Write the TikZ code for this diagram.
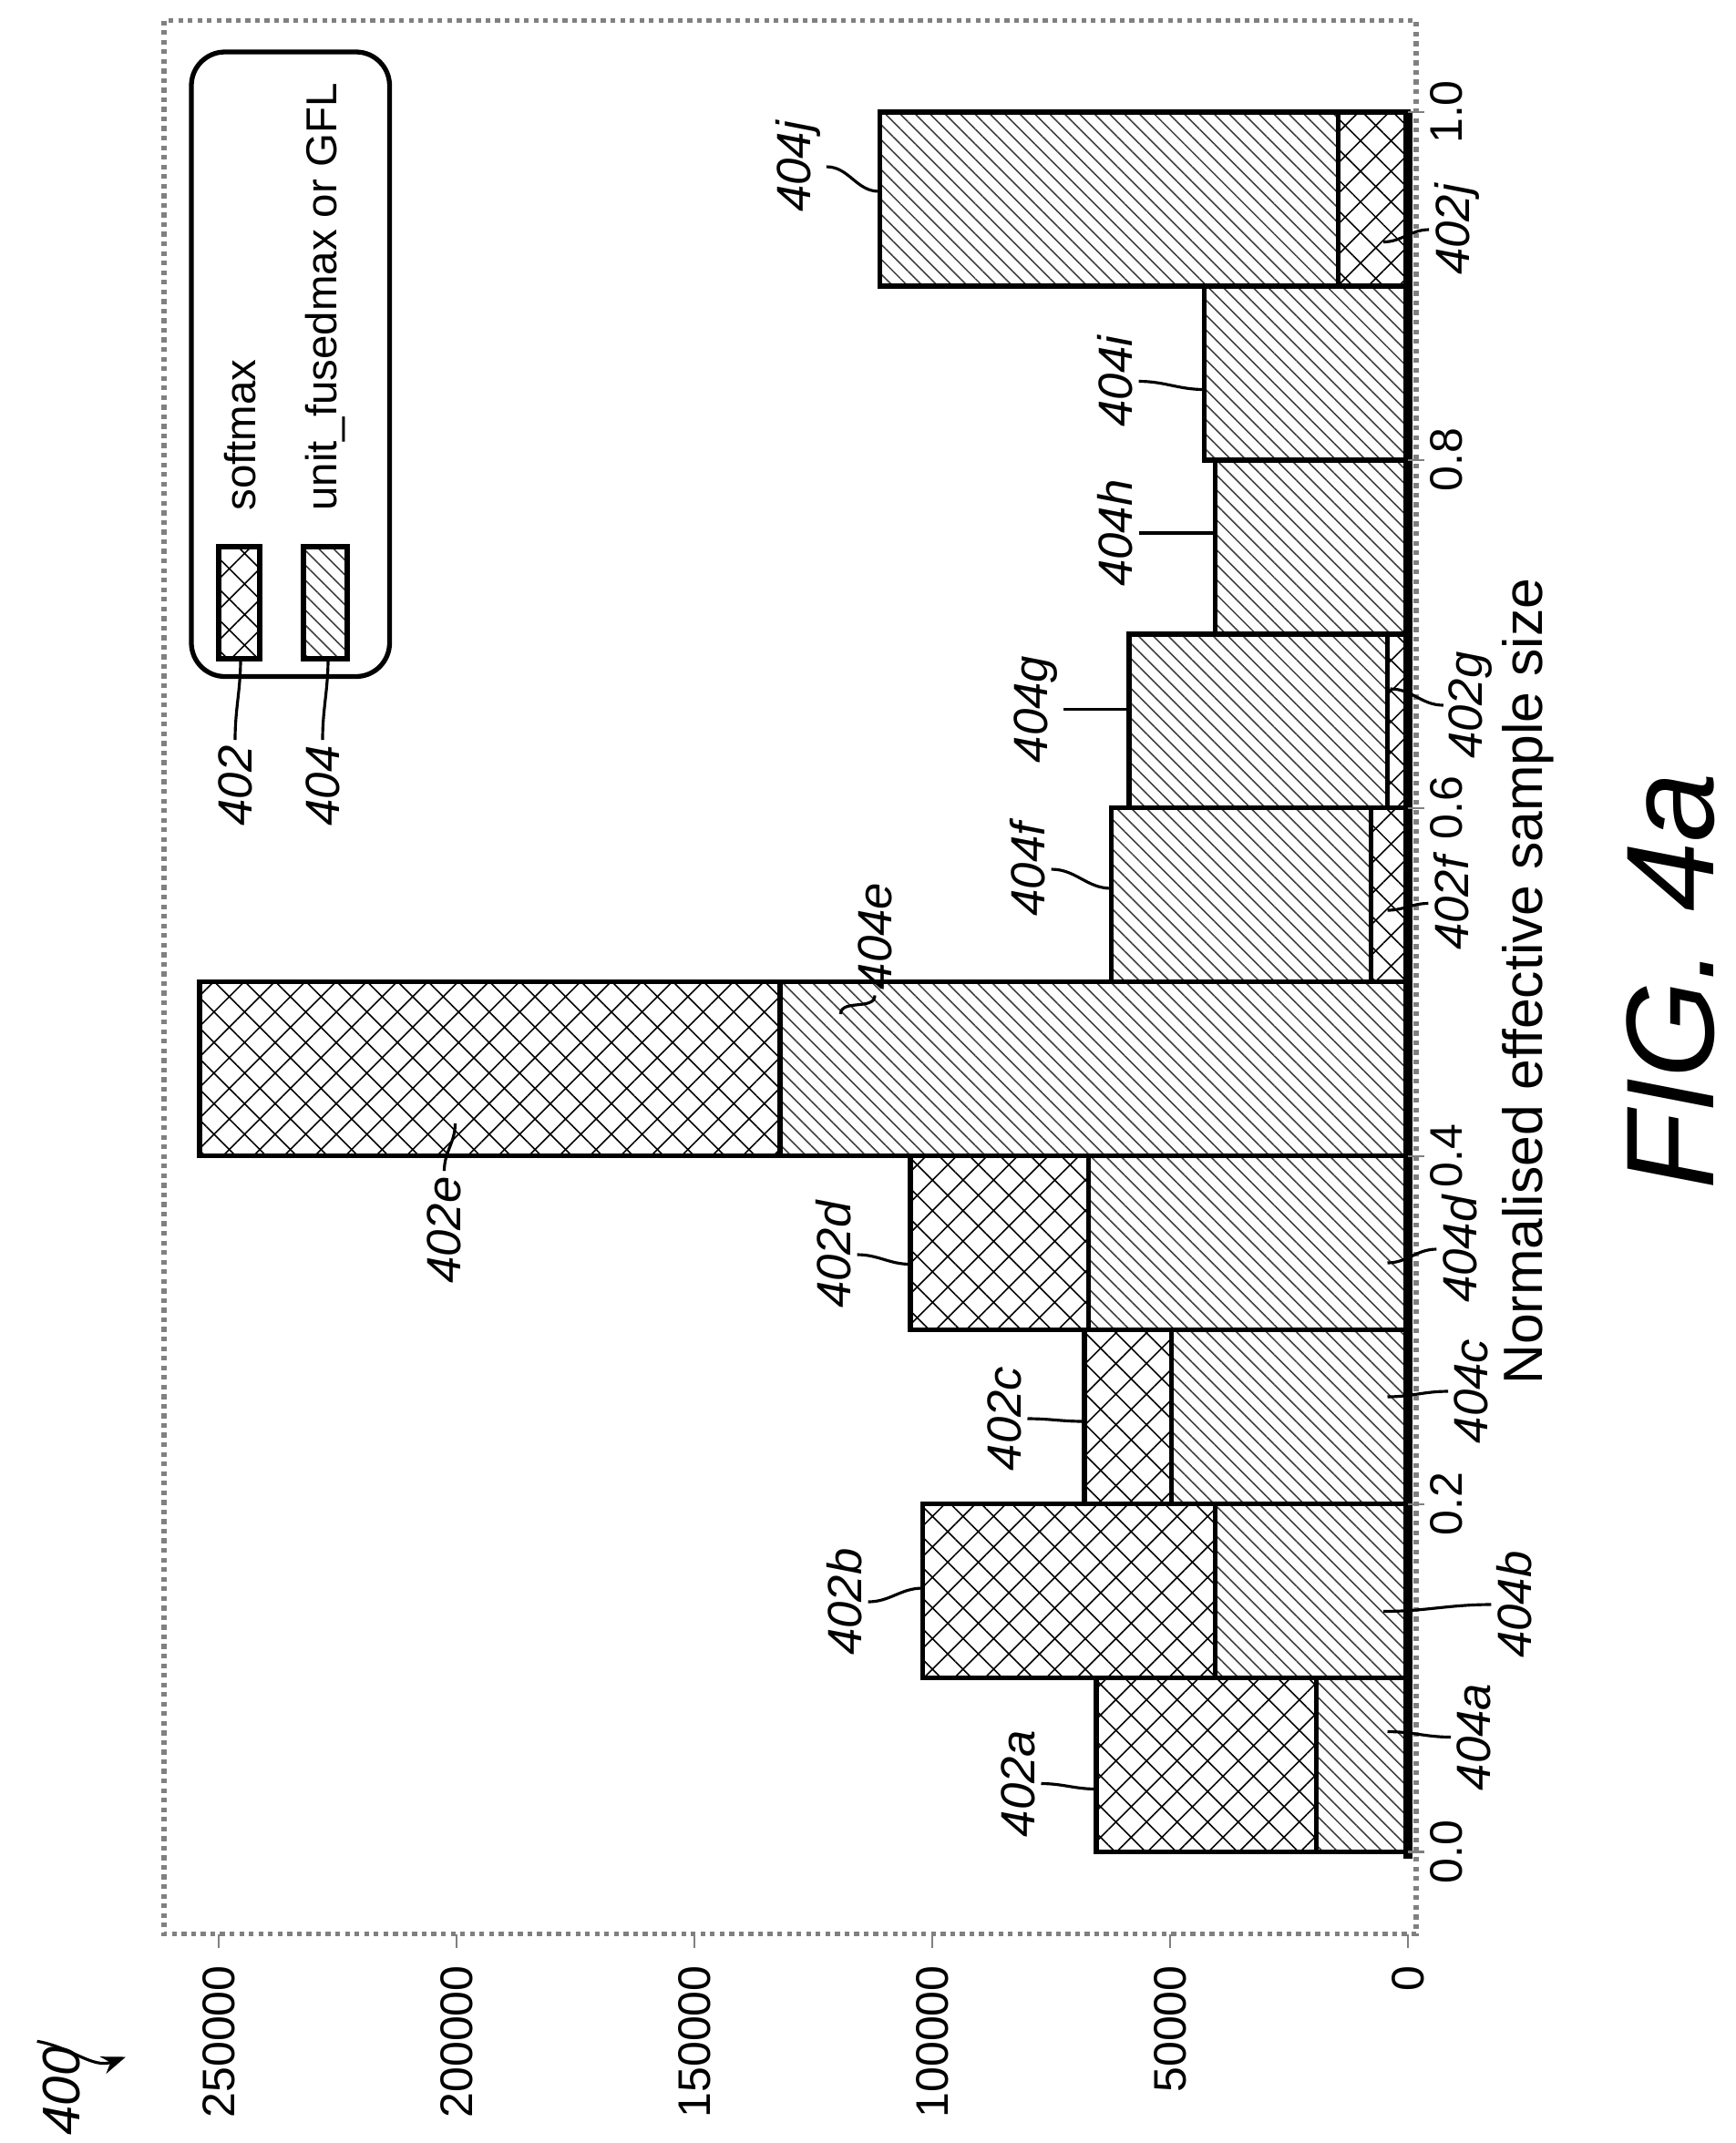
\documentclass[tikz,border=0pt]{standalone}
\usepackage{fontspec}
\setmainfont{Liberation Sans}
\usetikzlibrary{patterns.meta,arrows.meta}
\tikzset{
	softbar/.style = {draw, line width=1pt, preaction={fill=white}, pattern={Hatch[angle=45,distance=4.5pt,line width=0.3pt]}},
	unitbar/.style = {draw, line width=1pt, preaction={fill=white}, pattern={Lines[angle=-45,distance=2.2pt,line width=0.3pt]}, pattern color=black!75},
	tag/.style = {font=\itshape\fontsize{10}{12}\selectfont, rotate=90, inner sep=1pt},
	tick/.style = {font=\fontsize{9.5}{11}\selectfont, rotate=90, inner sep=1pt},
	lead/.style = {line width=0.6pt}
}
% page position of a bin (0..9); counts are given in thousands
\def\bintop#1{(1355-127.3*(#1+1))}
\def\valx#1{(1030-#1*3.48)}
\begin{document}
\begin{tikzpicture}[x=0.1mm, y=-0.1mm]
	\useasboundingbox (0,0) rectangle (1270,1568);
	% frame
	\draw[gray, densely dotted, line width=1pt] (120,15) rectangle (1036,1415);
	% bars: larger one first, smaller one on top
	\foreach \i/\big/\bs/\small/\ss in {0/65.5/softbar/19.3/unitbar, 1/102/softbar/40.5/unitbar,
		2/68/softbar/49.7/unitbar, 3/104.6/softbar/67.2/unitbar, 4/254/softbar/132/unitbar,
		5/62.4/unitbar/7.8/softbar, 6/58.6/unitbar/4.3/softbar, 7/40.5/unitbar/0/softbar,
		8/42.8/unitbar/0/softbar, 9/111/unitbar/14.7/softbar}
	{
		\draw[\bs] ({\valx{\big}},{1355-127.3*\i}) rectangle (1030,{\bintop{\i}});
		\draw[\ss] ({\valx{\small}},{1355-127.3*\i}) rectangle (1030,{\bintop{\i}});
	}
	% axes
	\draw[line width=2pt] (1030,82) -- (1030,1360);
	\foreach \k/\t in {0/0.0,1/0.2,2/0.4,3/0.6,4/0.8,5/1.0}
	{
		\draw[gray] (1030,{1355-254.6*\k}) -- ++(12,0);
		\node[tick, anchor=north] (xt\k) at (1042,{1355-254.6*\k}) {\t};
	}
	\foreach \k/\lab in {0/0,1/50000,2/100000,3/150000,4/200000,5/250000}
	{
		\draw[gray] ({1030-174*\k},1415) -- ++(0,10);
		\node[tick, anchor=east] (yt\k) at ({1030-174*\k},1434) {\lab};
	}
	\node[rotate=90, font=\fontsize{11.5}{13}\selectfont] (xtitle) at (1118,718) {Normalised effective sample size};
	\node[rotate=90, font=\itshape\fontsize{26}{30}\selectfont] (fig) at (1222,718) {FIG. 4a};
	% legend
	\draw[line width=1pt, rounded corners=7pt] (140,38) rectangle (285,495);
	\draw[softbar] (160,400) rectangle (190,482);
	\draw[unitbar] (222,400) rectangle (254,482);
	\node[tick, anchor=west, font=\fontsize{9}{11}\selectfont] (lsoft) at (176,378) {softmax};
	\node[tick, anchor=west, font=\fontsize{9}{11}\selectfont] (lunit) at (238,378) {unit\_fusedmax or GFL};
	\node[tag] (l402) at (172,575) {402};
	\node[tag] (l404) at (236,575) {404};
	\coordinate (s402) at (176,482);
	\coordinate (s404) at (240,482);
	\draw[lead] (s402) to[out=-90, in=90] (l402.east);
	\draw[lead] (s404) to[out=-90, in=90] (l404.east);
	% figure number
	\node[tag, font=\itshape\fontsize{11}{13}\selectfont] (n400) at (45,1530) {400};
	\coordinate (a400) at (92,1505);
	\draw[lead, -{Stealth[length=5pt]}] (n400.north east) to[out=-10, in=200] (a400);
	% bar labels: left of a bar top
	\foreach \n/\x/\y/\ex/\ey in {402a/745/1305/802/1309, 402b/618/1172/675/1162, 402c/735/1038/793/1040,
		402d/610/918/666/925, 404f/752/636/813/650, 404g/758/519/826/519, 404h/816/390/889/390,
		404i/816/279/881/285, 404j/584/122/643/140}
	{
		\node[tag] (t\n) at (\x,\y) {\n};
		\coordinate (e\n) at (\ex,\ey);
		\draw[lead] (t\n.south) to[out=0, in=180] (e\n);
	}
	% bar labels: right of the axis
	\foreach \n/\x/\y/\ex/\ey in {404a/1078/1271/1015/1267, 404b/1108/1174/1012/1179, 404c/1076/1018/1015/1022,
		404d/1068/914/1015/924, 402f/1062/661/1015/666, 402g/1076/516/1017/504, 402j/1066/168/1012/177}
	{
		\node[tag] (t\n) at (\x,\y) {\n};
		\coordinate (e\n) at (\ex,\ey);
		\draw[lead] (t\n.north) to[out=180, in=0] (e\n);
	}
	\node[tag] (t402e) at (325,900) {402e};
	\coordinate (e402e) at (333,822);
	\draw[lead] (t402e.east) to[out=90, in=-90] (e402e);
	\node[tag] (t404e) at (640,685) {404e};
	\coordinate (e404e) at (615,742);
	\draw[lead] (t404e.west) to[out=-90, in=90] (e404e);
\end{tikzpicture}
\end{document}
